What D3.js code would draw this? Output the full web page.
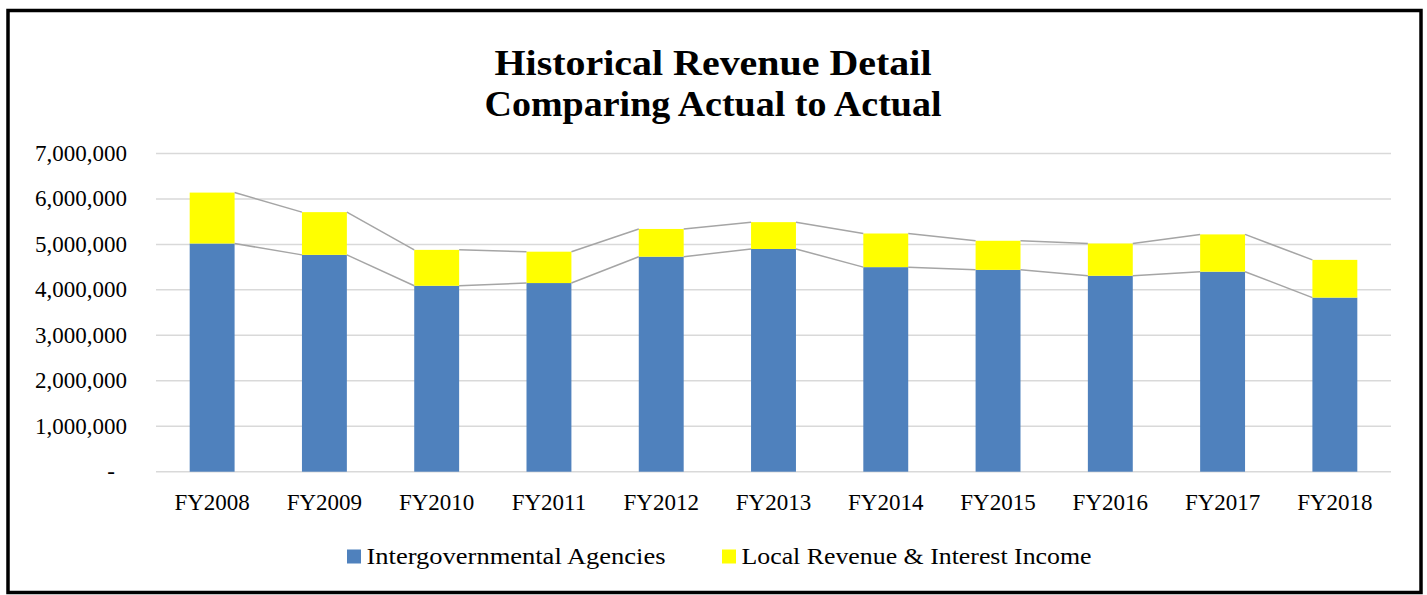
<!DOCTYPE html>
<html>
<head>
<meta charset="utf-8">
<script src="https://cdn.jsdelivr.net/npm/d3@7"></script>
<style>
  html, body { margin: 0; padding: 0; background: #fff; }
  text { font-family: "Liberation Serif", "Times New Roman", serif; fill: #000; }
</style>
</head>
<body>
<div id="chart"></div>
<script>
// Basic setup
var width = 1427,
    height = 595;

// Data
var years = ["FY2008", "FY2009", "FY2010", "FY2011", "FY2012", "FY2013",
             "FY2014", "FY2015", "FY2016", "FY2017", "FY2018"];
var intergov = [5020000, 4770000, 4090000, 4150000, 4730000, 4900000,
                4500000, 4440000, 4310000, 4400000, 3830000];
var localRev = [1120000, 940000, 790000, 690000, 610000, 590000,
                740000, 640000, 710000, 820000, 830000];
var seriesNames = ["Intergovernmental Agencies", "Local Revenue & Interest Income"];
var seriesColors = ["#4F81BD", "#FFFF00"];
var yTicks = [0, 1000000, 2000000, 3000000, 4000000, 5000000, 6000000, 7000000];
var titleLines = ["Historical Revenue Detail", "Comparing Actual to Actual"];

var margin = { left: 156, right: 36, top: 153.5, bottom: 123.3 };

var svg = d3.select("#chart").append("svg")
    .attr("width", width)
    .attr("height", height);

svg.append("rect")
    .attr("width", width)
    .attr("height", height)
    .attr("fill", "#fff");

// chart border
svg.append("rect")
    .attr("x", 8)
    .attr("y", 10.5)
    .attr("width", 1413)
    .attr("height", 582)
    .attr("fill", "none")
    .attr("stroke", "#000")
    .attr("stroke-width", 3.5);

// Title (two lines)
svg.selectAll("text.title")
    .data(titleLines)
  .enter().append("text")
    .attr("class", "title")
    .attr("x", 713)
    .attr("y", function(d, i) { return i === 0 ? 75 : 115.5; })
    .attr("text-anchor", "middle")
    .attr("font-size", 36)
    .attr("font-weight", "bold")
    .attr("textLength", function(d, i) { return i === 0 ? 437 : 457; })
    .attr("lengthAdjust", "spacingAndGlyphs")
    .text(function(d) { return d; });

// Scales
var x = d3.scaleBand()
    .domain(years)
    .range([margin.left, width - margin.right])
    .paddingInner(0.6)
    .paddingOuter(0.3);

var y = d3.scaleLinear()
    .domain([0, 7000000])
    .range([height - margin.bottom, margin.top]);

// Gridlines
svg.append("g")
    .selectAll("line")
    .data(yTicks)
  .enter().append("line")
    .attr("x1", margin.left)
    .attr("x2", width - margin.right)
    .attr("y1", function(d) { return y(d); })
    .attr("y2", function(d) { return y(d); })
    .attr("stroke", "#D9D9D9")
    .attr("stroke-width", 1.5);

// Y axis labels (accounting format, zero shown as dash)
var fmt = d3.format(",");
svg.append("g")
    .selectAll("text")
    .data(yTicks)
  .enter().append("text")
    .attr("x", function(d) { return d === 0 ? 115 : 127; })
    .attr("y", function(d) { return y(d) + 7.5; })
    .attr("text-anchor", "end")
    .attr("font-size", 23)
    .text(function(d) { return d === 0 ? "-" : fmt(d); });

// Stacked bars
var rows = years.map(function(yr, i) {
  return { year: yr, a: intergov[i], b: localRev[i] };
});
var stacked = d3.stack().keys(["a", "b"])(rows);

var layers = svg.append("g")
    .selectAll("g")
    .data(stacked)
  .enter().append("g")
    .attr("fill", function(d, i) { return seriesColors[i]; });

layers.selectAll("rect")
    .data(function(d) { return d; })
  .enter().append("rect")
    .attr("x", function(d) { return x(d.data.year); })
    .attr("width", x.bandwidth())
    .attr("y", function(d) { return y(d[1]); })
    .attr("height", function(d) { return y(d[0]) - y(d[1]); });

// Series lines: right edge of one bar top to left edge of the next
stacked.forEach(function(layer) {
  var segs = d3.pairs(layer);
  svg.append("g")
      .selectAll("line")
      .data(segs)
    .enter().append("line")
      .attr("x1", function(p) { return x(p[0].data.year) + x.bandwidth(); })
      .attr("y1", function(p) { return y(p[0][1]); })
      .attr("x2", function(p) { return x(p[1].data.year); })
      .attr("y2", function(p) { return y(p[1][1]); })
      .attr("stroke", "#A5A5A5")
      .attr("stroke-width", 1.5);
});

// X axis labels
svg.append("g")
    .selectAll("text")
    .data(years)
  .enter().append("text")
    .attr("x", function(d) { return x(d) + x.bandwidth() / 2; })
    .attr("y", 509.5)
    .attr("text-anchor", "middle")
    .attr("font-size", 23)
    .text(function(d) { return d; });

// Legend
var legendX = [347, 722];
var legendW = [299, 350];
var legend = svg.append("g")
    .selectAll("g")
    .data(seriesNames)
  .enter().append("g")
    .attr("transform", function(d, i) { return "translate(" + legendX[i] + ",0)"; });

legend.append("rect")
    .attr("x", 0)
    .attr("y", 549.5)
    .attr("width", 14)
    .attr("height", 14)
    .attr("fill", function(d, i) { return seriesColors[i]; });

legend.append("text")
    .attr("x", 19.5)
    .attr("y", 564)
    .attr("font-size", 23)
    .attr("textLength", function(d, i) { return legendW[i]; })
    .attr("lengthAdjust", "spacingAndGlyphs")
    .text(function(d) { return d; });
</script>
</body>
</html>
